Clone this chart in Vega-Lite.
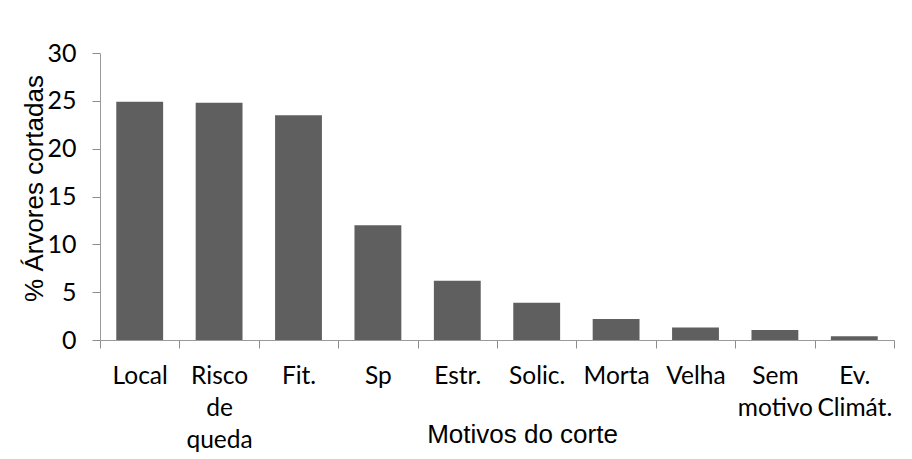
{
  "$schema": "https://vega.github.io/schema/vega-lite/v6.json",
  "width": 794,
  "height": 287,
  "autosize": {"type": "none"},
  "padding": {"left": 100, "top": 53, "right": 18, "bottom": 119},
  "background": "white",
  "config": {
    "view": {"stroke": null},
    "font": "Lato"
  },
  "data": {
    "values": [
      {"motivo": "Local", "pct": 24.9},
      {"motivo": "Risco de queda", "pct": 24.8},
      {"motivo": "Fit.", "pct": 23.5},
      {"motivo": "Sp", "pct": 12.0},
      {"motivo": "Estr.", "pct": 6.2},
      {"motivo": "Solic.", "pct": 3.9},
      {"motivo": "Morta", "pct": 2.2},
      {"motivo": "Velha", "pct": 1.3},
      {"motivo": "Sem motivo", "pct": 1.05},
      {"motivo": "Ev. Climát.", "pct": 0.4}
    ]
  },
  "mark": {"type": "bar", "color": "#5f5f5f", "width": {"band": 0.59}},
  "encoding": {
    "x": {
      "field": "motivo",
      "type": "nominal",
      "sort": null,
      "scale": {"paddingInner": 0, "paddingOuter": 0},
      "axis": {
        "title": "Motivos do corte",
        "titleFont": "Liberation Sans",
        "titleFontSize": 26,
        "titleFontWeight": "normal",
        "titleColor": "black",
        "titleX": 422,
        "titleY": 102,
        "titleAlign": "center",
        "titleBaseline": "alphabetic",
        "labelAngle": 0,
        "labelFont": "Lato",
        "labelFontSize": 24.5,
        "labelColor": "black",
        "labelLineHeight": 32,
        "labelPadding": 35,
        "labelBaseline": "alphabetic",
        "labelExpr": "split(datum.label, ' ')",
        "ticks": true,
        "tickBand": "extent",
        "tickSize": 8,
        "tickWidth": 1,
        "tickColor": "#8c8c8c",
        "domainColor": "#9a9a9a",
        "labelOverlap": false,
        "labelBound": false
      }
    },
    "y": {
      "field": "pct",
      "type": "quantitative",
      "scale": {"domain": [0, 30], "nice": false},
      "axis": {
        "title": "%  Árvores cortadas",
        "titleFont": "Liberation Sans",
        "titleFontSize": 26,
        "titleFontWeight": "normal",
        "titleColor": "black",
        "titleAngle": -90,
        "titleX": -58,
        "titleY": 135,
        "titleAlign": "center",
        "titleBaseline": "alphabetic",
        "values": [0, 5, 10, 15, 20, 25, 30],
        "grid": false,
        "labelFont": "Lato",
        "labelFontSize": 25,
        "labelColor": "black",
        "labelPadding": 16,
        "tickSize": 8,
        "tickColor": "#8c8c8c",
        "domainColor": "#9a9a9a"
      }
    }
  }
}
